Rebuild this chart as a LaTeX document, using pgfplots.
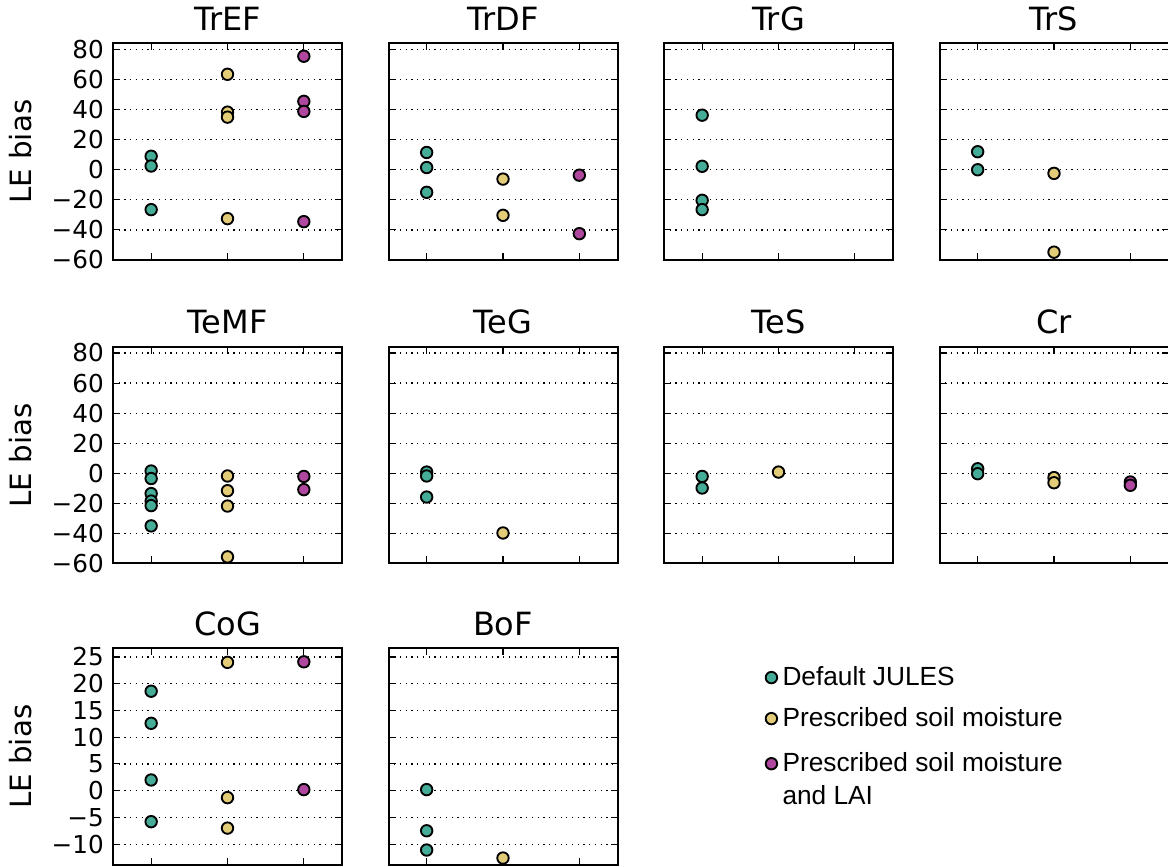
\documentclass[border=0pt]{standalone}
\usepackage{fontspec}
\setmainfont{DejaVu Sans}
\newfontfamily\legfont{Liberation Sans}
\usepackage{pgfplots}
\pgfplotsset{compat=1.18}
\definecolor{cteal}{HTML}{45AC98}
\definecolor{cyel}{HTML}{E2CC78}
\definecolor{cmag}{HTML}{B0479F}
\pgfplotsset{
 panel/.style={scale only axis, width=171.75pt, height=162.4pt, anchor=south west,
   xmin=0.5, xmax=3.5, xtick={1,2,3}, xticklabels={},
   tick align=inside, major tick length=5.25pt,
   every tick/.style={black, line width=0.8pt},
   axis line style={line width=1.5pt},
   ymajorgrids, grid style={black, line width=0.9pt, dash pattern=on 0.9pt off 3.4pt},
   clip marker paths=true,
   title style={font=\fontsize{24}{28}\selectfont},
   yticklabel style={font=\fontsize{18.5}{22}\selectfont, inner sep=0pt, anchor=east, xshift=-6.75pt},
   ylabel style={font=\fontsize{22}{26}\selectfont, at={(axis description cs:-0.354,0.5)}, anchor=south, inner sep=0pt},
   yticklabels={}},
 big/.style={ymin=-60, ymax=84, ytick={-60,-40,-20,0,20,40,60,80}},
 bigl/.style={big, ylabel={LE bias}, yticklabels={−60,−40,−20,0,20,40,60,80}},
 small/.style={ymin=-13.9, ymax=26.6, ytick={-10,-5,0,5,10,15,20,25}},
 smalll/.style={small, ylabel={LE bias}, yticklabels={−10,−5,0,5,10,15,20,25}},
 tl/.style={only marks, mark=*, mark size=4.3pt, mark options={draw=black, fill=cteal, line width=1.4pt}},
 ye/.style={only marks, mark=*, mark size=4.3pt, mark options={draw=black, fill=cyel, line width=1.4pt}},
 mg/.style={only marks, mark=*, mark size=4.3pt, mark options={draw=black, fill=cmag, line width=1.4pt}},
}
\begin{document}
\begin{tikzpicture}
\path[use as bounding box] (0pt,0pt) rectangle (876pt,650.25pt);
\clip (0pt,0pt) rectangle (876pt,650.25pt);
% Row 1
\begin{axis}[panel,bigl,at={(84.75pt,455.25pt)},title={TrEF}]
\addplot[tl] coordinates {(1,9) (1,2.5) (1,-26.5)};
\addplot[ye] coordinates {(2,63.5) (2,38.3) (2,35) (2,-32.5)};
\addplot[mg] coordinates {(3,75.5) (3,45.5) (3,38.8) (3,-34.5)};
\end{axis}
\begin{axis}[panel,big,at={(291.375pt,455.25pt)},title={TrDF}]
\addplot[tl] coordinates {(1,11.5) (1,1.5) (1,-15)};
\addplot[ye] coordinates {(2,-6.2) (2,-30.3)};
\addplot[mg] coordinates {(3,-3.6) (3,-42.5)};
\end{axis}
\begin{axis}[panel,big,at={(498pt,455.25pt)},title={TrG}]
\addplot[tl] coordinates {(1,36.3) (1,2.3) (1,-20.3) (1,-26.5)};
\end{axis}
\begin{axis}[panel,big,at={(704.625pt,455.25pt)},title={TrS}]
\addplot[tl] coordinates {(1,12) (1,0)};
\addplot[ye] coordinates {(2,-2.4) (2,-54.8)};
\end{axis}
% Row 2
\begin{axis}[panel,bigl,at={(84.75pt,227.625pt)},title={TeMF}]
\addplot[tl] coordinates {(1,1.5) (1,-3.5) (1,-13.5) (1,-18.5) (1,-21.5) (1,-35)};
\addplot[ye] coordinates {(2,-1.8) (2,-11.6) (2,-21.8) (2,-55.6)};
\addplot[mg] coordinates {(3,-2.1) (3,-10.9) (3,-63.5)};
\end{axis}
\begin{axis}[panel,big,at={(291.375pt,227.625pt)},title={TeG}]
\addplot[tl] coordinates {(1,0.8) (1,-1.8) (1,-15.8)};
\addplot[ye] coordinates {(2,-39.7)};
\end{axis}
\begin{axis}[panel,big,at={(498pt,227.625pt)},title={TeS}]
\addplot[tl] coordinates {(1,-2.1) (1,-9.8)};
\addplot[ye] coordinates {(2,0.8)};
\end{axis}
\begin{axis}[panel,big,at={(704.625pt,227.625pt)},title={Cr}]
\addplot[tl] coordinates {(1,3) (1,-0.3)};
\addplot[ye] coordinates {(2,-2.9) (2,-6.3)};
\addplot[mg] coordinates {(3,-5.8) (3,-8)};
\end{axis}
% Row 3
\begin{axis}[panel,smalll,at={(84.75pt,1.5pt)},title={CoG}]
\addplot[tl] coordinates {(1,18.6) (1,12.6) (1,2.0) (1,-5.8)};
\addplot[ye] coordinates {(2,24) (2,-1.3) (2,-7)};
\addplot[mg] coordinates {(3,24.1) (3,0.2)};
\end{axis}
\begin{axis}[panel,small,at={(291.375pt,1.5pt)},title={BoF},
  legend image code/.code={\draw[#1] plot coordinates {(0pt,6pt)};},
  legend style={draw=none, fill=none, at={(1.646,0.93)}, anchor=north west,
    font=\legfont\fontsize{19.7}{24.75}\selectfont, row sep=11pt, inner sep=0pt,
    column sep=2pt, cells={anchor=base west}}]
\addplot[tl] coordinates {(1,0.2) (1,-7.5) (1,-11.1)};
\addplot[ye] coordinates {(2,-12.6)};
\addlegendimage{mg}
\addlegendentry{Default JULES}
\addlegendentry{Prescribed soil moisture}
\addlegendentry{\begin{tabular}[t]{@{}l@{}}Prescribed soil moisture\\and LAI\end{tabular}}
\end{axis}
\end{tikzpicture}
\end{document}
